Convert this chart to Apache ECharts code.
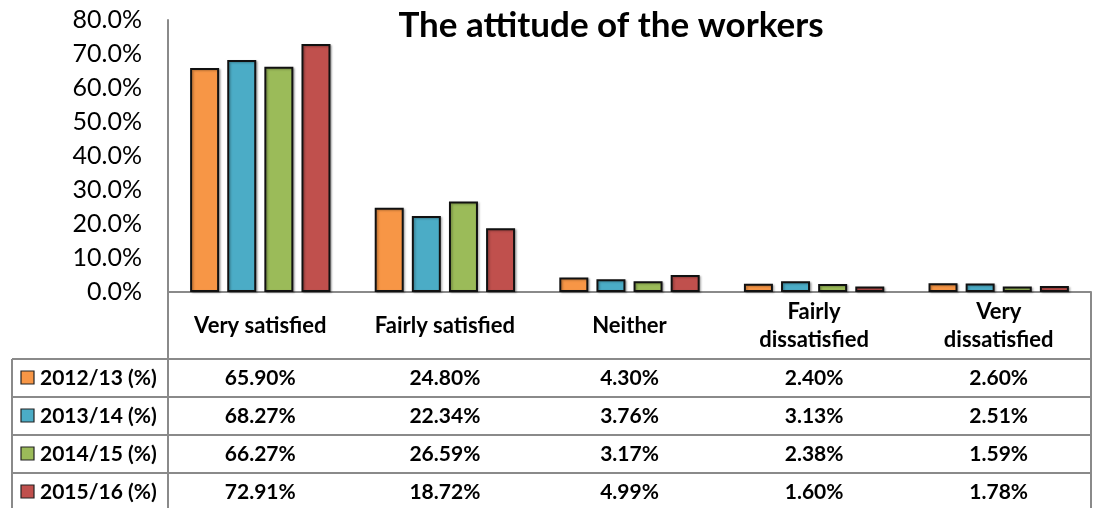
<!DOCTYPE html>
<html>
<head>
<meta charset="utf-8">
<script src="https://cdn.jsdelivr.net/npm/echarts@6/dist/echarts.min.js"></script>
<style>
html,body{margin:0;padding:0;background:#fff;}
#c{width:1094px;height:508px;}
</style>
</head>
<body>
<div id="c"></div>
<script>
const categories = ['Very satisfied', 'Fairly satisfied', 'Neither', 'Fairly\ndissatisfied', 'Very\ndissatisfied'];
const seriesNames = ['2012/13 (%)', '2013/14 (%)', '2014/15 (%)', '2015/16 (%)'];
const v2012 = [65.90, 24.80, 4.30, 2.40, 2.60];
const v2013 = [68.27, 22.34, 3.76, 3.13, 2.51];
const v2014 = [66.27, 26.59, 3.17, 2.38, 1.59];
const v2015 = [72.91, 18.72, 4.99, 1.60, 1.78];
const colors = ['#F79646', '#4BACC6', '#9BBB59', '#C0504D'];
const yTicks = [0, 10, 20, 30, 40, 50, 60, 70, 80];

const allValues = [v2012, v2013, v2014, v2015];
const FONT = 'Lato, "Open Sans", sans-serif';
const LINE = '#8a8a8a';

const chart = echarts.init(document.getElementById('c'), null, {renderer: 'canvas'});

const option = {
  animation: false,
  backgroundColor: '#fff',
  title: {
    text: 'The attitude of the workers',
    left: 611,
    textAlign: 'center',
    top: 6,
    padding: 0,
    textStyle: {fontFamily: FONT, fontWeight: 'bold', fontSize: 35, color: '#000', lineHeight: 40}
  },
  grid: {left: 168, right: 3, top: 20, bottom: 216, containLabel: false},
  xAxis: {
    type: 'category',
    data: categories,
    axisLine: {lineStyle: {color: LINE, width: 2}},
    axisTick: {show: false},
    axisLabel: {
      interval: 0,
      margin: 34,
      verticalAlign: 'middle',
      fontFamily: FONT, fontWeight: 'bold', fontSize: 22, color: '#000', lineHeight: 28
    }
  },
  yAxis: {
    type: 'value',
    min: yTicks[0],
    max: yTicks[yTicks.length - 1],
    interval: 10,
    axisLine: {show: true, lineStyle: {color: LINE, width: 2}},
    axisTick: {show: false},
    splitLine: {show: false},
    axisLabel: {
      margin: 26,
      fontFamily: FONT, fontSize: 25, color: '#000',
      formatter: v => v.toFixed(1) + '%'
    }
  },
  series: seriesNames.map((n, i) => ({
    name: n,
    type: 'bar',
    data: allValues[i],
    barWidth: 29,
    barGap: '28%',
    itemStyle: {
      color: colors[i],
      borderColor: '#111',
      borderWidth: 2,
      shadowColor: 'rgba(0,0,0,0.25)',
      shadowOffsetX: 1.5,
      shadowOffsetY: 1,
      shadowBlur: 2
    }
  }))
};
chart.setOption(option);

// Build the data table beneath the axis
const y0 = chart.convertToPixel({yAxisIndex: 0}, 0);
const gridLeft = 168, gridRight = 1091, tableLeft = 12;
const headerBottom = 359, rowH = 38, bottomY = 520;
const els = [];
function line(x1, y1, x2, y2) {
  els.push({type: 'line', shape: {x1, y1, x2, y2}, style: {stroke: LINE, lineWidth: 2}, z: 10});
}
for (let r = 0; r < seriesNames.length; r++) {
  line(tableLeft, headerBottom + r * rowH, gridRight, headerBottom + r * rowH);
}
line(tableLeft, headerBottom, tableLeft, bottomY);
line(gridLeft, y0, gridLeft, bottomY);
line(gridRight, y0, gridRight, bottomY);

for (let r = 0; r < seriesNames.length; r++) {
  const cy = headerBottom + r * rowH + rowH / 2;
  els.push({type: 'rect', shape: {x: 21, y: cy - 7, width: 13, height: 13},
    style: {fill: colors[r], stroke: '#222', lineWidth: 1.2}, z: 10});
  els.push({type: 'text', x: 40, y: cy,
    style: {text: seriesNames[r], font: 'bold 21px ' + FONT, fill: '#000', textAlign: 'left', textVerticalAlign: 'middle'}, z: 10});
  for (let c = 0; c < categories.length; c++) {
    const cx = chart.convertToPixel({xAxisIndex: 0}, c);
    els.push({type: 'text', x: cx, y: cy,
      style: {text: allValues[r][c].toFixed(2) + '%', font: 'bold 21px ' + FONT, fill: '#000', textAlign: 'center', textVerticalAlign: 'middle'}, z: 10});
  }
}
chart.setOption({graphic: {elements: els}});
</script>
</body>
</html>
